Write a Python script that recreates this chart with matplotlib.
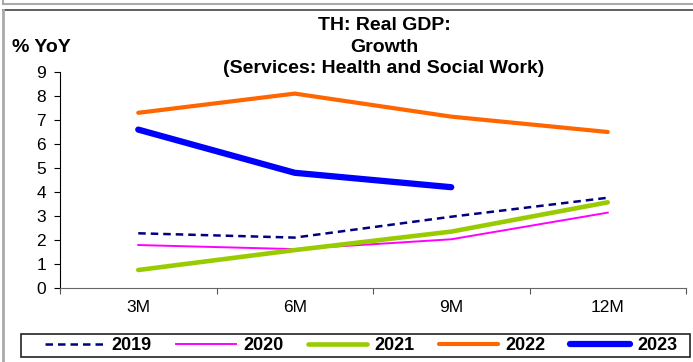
import numpy as np
import matplotlib.pyplot as plt
from matplotlib.lines import Line2D
from matplotlib.patches import Rectangle

plt.rcParams['font.family'] = ['Liberation Sans', 'DejaVu Sans']

periods = ['3M', '6M', '9M', '12M']
y2019 = [2.28, 2.10, 2.97, 3.76]
y2020 = [1.79, 1.62, 2.03, 3.14]
y2021 = [0.75, 1.58, 2.35, 3.57]
y2022 = [7.30, 8.10, 7.14, 6.50]
y2023 = [6.60, 4.80, 4.20]

W, H = 693, 362
fig = plt.figure(figsize=(W / 100, H / 100), dpi=100)

# outer frame lines
fig.add_artist(Line2D([3 / W, 1], [1 - 4 / H, 1 - 4 / H], color='#aaaaaa', lw=1.5))
fig.add_artist(Line2D([3 / W, 3 / W], [1, 1 - 4 / H], color='#aaaaaa', lw=1.5))
fig.add_artist(Line2D([3 / W, 1], [1 - 10 / H, 1 - 10 / H], color='#444444', lw=1.2))
fig.add_artist(Line2D([3 / W, 3 / W], [0, 1 - 10 / H], color='#aaaaaa', lw=2))

ax = fig.add_axes([60 / W, 1 - 288 / H, (686 - 60) / W, (288 - 72) / H])
x = np.arange(len(periods))

ax.plot(x, y2019, color='#000080', lw=1.8, ls=(0, (3, 2)), label='2019')
ax.plot(x, y2020, color='#FF00FF', lw=1.4, label='2020')
ax.plot(x, y2021, color='#99CC00', lw=3.3, label='2021', solid_capstyle='round')
ax.plot(x, y2022, color='#FF6600', lw=3.0, label='2022', solid_capstyle='round')
ax.plot(x[:len(y2023)], y2023, color='#0000FF', lw=4.5, label='2023',
        solid_capstyle='round')

ax.set_xlim(-0.5, len(periods) - 0.5)
ax.set_ylim(0, 9)
ax.set_yticks(range(0, 10))
ax.set_xticks(np.arange(-0.5, len(periods), 1.0))
ax.set_xticklabels([])
ax.set_xticks(x, minor=True)
ax.set_xticklabels(periods, minor=True)
ax.tick_params(axis='x', which='minor', length=0, pad=9, labelsize=12.5)
ax.tick_params(axis='x', which='major', length=4, color='#555555')
ax.tick_params(axis='y', length=4, labelsize=12.5, pad=6)
ax.spines['top'].set_visible(False)
ax.spines['right'].set_visible(False)
ax.spines['bottom'].set_color('#666666')

fig.text(384 / W, 1 - 47 / H, 'TH: Real GDP:\nGrowth\n(Services: Health and Social Work)',
         ha='center', va='center', fontsize=14, fontweight='bold', linespacing=1.35)
fig.text(12 / W, 1 - 48 / H, '% YoY', ha='left', va='center', fontsize=14,
         fontweight='bold')

# legend box
fig.add_artist(Rectangle((21 / W, 1 - 357 / H), (690 - 21) / W, 23 / H,
                         transform=fig.transFigure, fill=False,
                         edgecolor='#222222', lw=1.2))
fig.legend(loc='center', bbox_to_anchor=(361 / W, 1 - 345.5 / H),
           ncol=5, frameon=False, prop={'weight': 'bold', 'size': 13},
           handlelength=3.3, handletextpad=0.4, columnspacing=1.35,
           borderpad=0, borderaxespad=0)

fig.savefig('out.png', dpi=100)
